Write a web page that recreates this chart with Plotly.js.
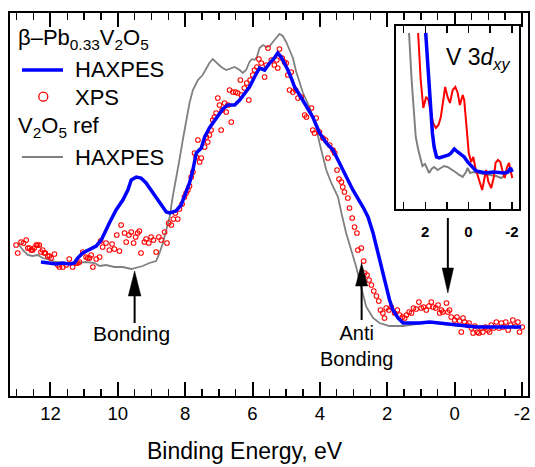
<!DOCTYPE html>
<html>
<head>
<meta charset="utf-8">
<script src="https://cdn.plot.ly/plotly-3.0.1.min.js"></script>
<style>html,body{margin:0;padding:0;background:#fff;}#chart{width:535px;height:467px;}</style>
</head>
<body>
<div id="chart"></div>
<script>
// ---- Main panel: beta-Pb0.33V2O5 HAXPES (blue line) ----
const haxpesE = [12.28,12.03,11.83,11.63,11.44,11.29,11.19,11.04,10.84,10.64,10.49,10.40,10.25,10.05,9.85,9.70,9.60,9.45,9.31,9.16,8.96,8.76,8.56,8.46,8.27,8.12,7.97,7.87,7.77,7.67,7.52,7.42,7.28,7.08,6.88,6.73,6.53,6.38,6.24,6.09,5.94,5.79,5.64,5.49,5.35,5.25,5.15,5.05,4.95,4.85,4.75,4.60,4.40,4.21,4.01,3.81,3.61,3.41,3.22,3.02,2.72,2.57,2.42,2.28,2.13,1.98,1.93,1.83,1.68,1.53,1.33,1.04,0.74,0.44,0.15,-0.25,-0.65,-1.24,-1.64,-1.98];
const haxpesI = [134,133,132,133,132,133,138,143,147,150,156,163,173,186,196,206,216,219,218,213,203,194,184,183,185,191,203,213,226,243,248,259,268,278,287,291,291,296,303,309,319,328,326,333,338,343,339,333,326,318,309,301,289,279,263,253,246,233,219,206,189,179,163,143,123,103,96,86,78,73,73,73,74,73,72,70,69,69,69,69];

// ---- Main panel: beta-Pb0.33V2O5 XPS (red open circles) ----
const xpsE = [13.02,12.97,12.87,12.80,12.72,12.67,12.62,12.57,12.53,12.48,12.42,12.38,12.33,12.28,12.23,12.18,12.15,12.08,12.03,11.98,11.88,11.78,11.73,11.63,11.53,11.44,11.34,11.24,11.19,11.14,11.04,10.94,10.89,10.84,10.79,10.74,10.64,10.54,10.51,10.45,10.35,10.25,10.17,10.10,10.03,9.95,9.90,9.80,9.75,9.67,9.60,9.53,9.47,9.41,9.36,9.31,9.21,9.16,9.08,9.01,8.94,8.86,8.78,8.71,8.61,8.54,8.49,8.41,8.35,8.29,8.22,8.17,8.09,8.02,7.97,7.92,7.87,7.82,7.77,7.72,7.67,7.62,7.57,7.52,7.42,7.37,7.33,7.28,7.23,7.18,7.13,7.08,7.03,6.98,6.93,6.90,6.83,6.78,6.73,6.68,6.63,6.58,6.50,6.44,6.36,6.33,6.24,6.17,6.11,6.07,5.99,5.94,5.87,5.81,5.74,5.64,5.59,5.54,5.44,5.35,5.28,5.25,5.20,5.12,5.05,5.00,4.95,4.90,4.85,4.80,4.72,4.65,4.55,4.45,4.40,4.25,4.21,4.16,4.11,4.01,3.91,3.83,3.76,3.71,3.61,3.56,3.49,3.43,3.36,3.32,3.27,3.17,3.12,3.04,2.97,2.90,2.87,2.77,2.70,2.67,2.60,2.54,2.47,2.40,2.32,2.25,2.20,2.13,2.08,2.03,1.95,1.88,1.78,1.70,1.63,1.55,1.48,1.43,1.35,1.28,1.22,1.14,1.06,0.99,0.92,0.84,0.76,0.69,0.64,0.56,0.49,0.44,0.39,0.35,0.24,0.20,0.15,0.10,0.00,-0.07,-0.15,-0.20,-0.25,-0.30,-0.37,-0.43,-0.50,-0.55,-0.60,-0.67,-0.72,-0.80,-0.84,-0.92,-0.99,-1.04,-1.09,-1.16,-1.24,-1.32,-1.39,-1.44,-1.52,-1.59,-1.66,-1.73,-1.81,-1.88,-1.93,-2.01];
const xpsI = [151,143,154,153,156,148,148,146,146,148,151,151,151,144,146,143,143,140,140,138,142,131,129,129,131,137,129,133,133,134,144,139,138,138,141,129,137,139,155,149,153,146,152,147,161,145,171,163,154,161,164,153,159,163,165,143,154,157,153,159,156,144,159,156,164,153,173,171,177,183,177,187,192,199,203,206,210,219,224,243,239,256,234,238,249,259,254,261,266,276,279,283,298,291,266,286,293,284,291,306,274,304,304,303,316,301,308,313,296,316,321,326,329,337,333,319,331,348,336,331,336,328,347,338,334,333,321,306,324,304,306,298,299,281,279,288,266,263,278,264,258,256,238,251,246,243,226,217,214,209,204,198,188,178,169,163,146,148,135,123,121,116,111,105,100,95,86,83,78,88,86,89,83,86,81,79,78,81,84,83,88,87,94,88,89,86,90,94,89,88,91,83,86,84,93,84,86,79,76,79,75,64,78,74,71,73,68,63,70,64,63,68,64,69,66,64,71,68,74,68,73,69,74,66,71,76,70,74,64,69];

// ---- Main panel: V2O5 reference HAXPES (grey line) ----
const refE = [12.97,12.82,12.67,12.53,12.38,12.23,12.03,11.83,11.53,11.24,10.94,10.69,10.54,10.35,10.10,9.85,9.60,9.45,9.26,9.06,8.86,8.76,8.66,8.56,8.46,8.37,8.27,8.17,8.07,7.97,7.87,7.77,7.62,7.48,7.37,7.28,7.18,7.08,6.93,6.78,6.63,6.53,6.38,6.29,6.19,6.09,6.01,5.94,5.87,5.79,5.69,5.59,5.49,5.40,5.29,5.20,5.10,5.00,4.90,4.80,4.70,4.50,4.31,4.11,4.01,3.91,3.81,3.66,3.46,3.36,3.22,3.07,2.92,2.77,2.62,2.42,2.23,1.93,1.53,1.14,0.74,0.35,-0.15,-1.34,-1.93];
const refI = [153,146,141,140,141,138,136,134,133,133,134,133,130,131,129,129,127,128,130,133,135,143,153,166,179,199,216,236,256,276,293,306,316,321,328,333,337,334,329,326,328,329,326,323,326,334,337,336,339,348,351,349,350,354,359,362,360,354,346,338,324,303,289,269,253,238,226,213,199,183,163,146,129,108,89,78,73,70,70,72,74,72,70,69,69];

// ---- Inset: V 3d_xy region ----
const insetRefE = [2.75,2.70,2.63,2.52,2.44,2.32,2.21,2.13,2.01,1.90,1.82,1.71,1.59,1.43,1.28,1.13,0.97,0.81,0.61,0.43,0.27,0.12,0.04,-0.07,-0.22,-0.43,-0.66,-0.97,-1.28,-1.51,-1.67,-1.82,-1.98];
const insetRefI = [176,149,129,96,72,59,49,43,45,40,36,40,42,39,41,43,42,40,37,34,32,37,41,36,37,36,35,34,33,31,34,36,39];
const insetHaxE = [1.98,1.85,1.74,1.67,1.59,1.48,1.36,1.20,1.05,0.92,0.81,0.66,0.50,0.35,0.20,0.04,-0.16,-0.35,-0.58,-0.81,-1.13,-1.43,-1.67,-1.82,-1.94,-2.02];
const insetHaxI = [176,129,96,76,62,52,51,52,53,54,56,60,57,54,52,47,42,38,37,36,37,36,36,37,41,37];
const insetXpsE = [2.33,2.21,2.09,1.96,1.85,1.74,1.64,1.51,1.39,1.28,1.17,1.08,0.97,0.86,0.73,0.61,0.50,0.40,0.27,0.20,0.08,-0.01,-0.12,-0.22,-0.32,-0.43,-0.53,-0.63,-0.73,-0.81,-0.92,-1.05,-1.17,-1.25,-1.36,-1.47,-1.56,-1.67,-1.78,-1.87,-1.94,-2.02];
const insetXpsI = [176,129,101,112,109,96,86,81,84,92,109,122,112,106,119,122,116,104,114,109,79,56,47,52,41,32,26,19,29,39,27,21,32,46,49,47,39,31,42,46,39,31];

// ---- Tick labels ----
const mainTickVals = [12,10,8,6,4,2,0,-2];
const mainTickText = ['12','10','8','6','4','2','0','-2'];
const insetTickVals = [2,0,-2];
const insetTickText = ['2','0','-2'];

const FONT = 'Liberation Sans, Arial, Helvetica, sans-serif';
const BLUE = '#0000ff', RED = '#ff0000', GREY = '#808080';

const traces = [
  {x: refE, y: refI, type:'scatter', mode:'lines', line:{color:GREY, width:1.8}, xaxis:'x', yaxis:'y'},
  {x: xpsE, y: xpsI, type:'scatter', mode:'markers', marker:{symbol:'circle-open', size:4.6, color:RED, line:{color:RED, width:1.1}}, xaxis:'x', yaxis:'y'},
  {x: haxpesE, y: haxpesI, type:'scatter', mode:'lines', line:{color:BLUE, width:3.5}, xaxis:'x', yaxis:'y'},
  {x: insetRefE, y: insetRefI, type:'scatter', mode:'lines', line:{color:GREY, width:2}, xaxis:'x2', yaxis:'y2'},
  {x: insetXpsE, y: insetXpsI, type:'scatter', mode:'lines', line:{color:RED, width:2}, xaxis:'x2', yaxis:'y2'},
  {x: insetHaxE, y: insetHaxI, type:'scatter', mode:'lines', line:{color:BLUE, width:3.5}, xaxis:'x2', yaxis:'y2'}
];

function xp(px){ return (px-10)/518; }
function yp(py){ return (396-py)/383; }

const shapes = [
  // legend keys
  {type:'line', xref:'paper', yref:'paper', x0:xp(22), x1:xp(63), y0:yp(70), y1:yp(70), line:{color:BLUE, width:3.5}},
  {type:'circle', xref:'paper', yref:'paper', xsizemode:'pixel', ysizemode:'pixel', xanchor:xp(43.3), yanchor:yp(96.7), x0:-4.5, x1:4.5, y0:-4.5, y1:4.5, line:{color:RED, width:1.3}},
  {type:'line', xref:'paper', yref:'paper', x0:xp(22), x1:xp(63), y0:yp(157), y1:yp(157), line:{color:GREY, width:1.8}},
  // Bonding arrow
  {type:'line', xref:'x', yref:'y', x0:9.5, x1:9.5, y0:73, y1:105, line:{color:'black', width:2}},
  {type:'path', xref:'x', yref:'y', xsizemode:'pixel', ysizemode:'pixel', xanchor:9.5, yanchor:125, path:'M0,0L-6.3,-25L6.3,-25Z', fillcolor:'black', line:{color:'black', width:0.5}},
  // Anti-bonding arrow
  {type:'line', xref:'x', yref:'y', x0:2.76, x1:2.76, y0:76, y1:115, line:{color:'black', width:2}},
  {type:'path', xref:'x', yref:'y', xsizemode:'pixel', ysizemode:'pixel', xanchor:2.76, yanchor:133, path:'M0,0L-6,-23L6,-23Z', fillcolor:'black', line:{color:'black', width:0.5}},
  // Down arrow
  {type:'line', xref:'x', yref:'y', x0:0.2, x1:0.2, y0:178, y1:122, line:{color:'black', width:2}},
  {type:'path', xref:'x', yref:'y', xsizemode:'pixel', ysizemode:'pixel', xanchor:0.2, yanchor:103, path:'M0,0L-5.7,25L5.7,25Z', fillcolor:'black', line:{color:'black', width:0.5}}
];

const ann = (o) => Object.assign({showarrow:false, font:{family:FONT, size:22, color:'black'}}, o);
const annotations = [
  ann({xref:'paper', yref:'paper', x:xp(16), y:yp(39), xanchor:'left', yanchor:'middle', text:'β–Pb<sub>0.33</sub>V<sub>2</sub>O<sub>5</sub>'}),
  ann({xref:'paper', yref:'paper', x:xp(73), y:yp(70), xanchor:'left', yanchor:'middle', text:'HAXPES'}),
  ann({xref:'paper', yref:'paper', x:xp(73), y:yp(97), xanchor:'left', yanchor:'middle', text:'XPS'}),
  ann({xref:'paper', yref:'paper', x:xp(16), y:yp(127), xanchor:'left', yanchor:'middle', text:'V<sub>2</sub>O<sub>5</sub> ref'}),
  ann({xref:'paper', yref:'paper', x:xp(73), y:yp(157), xanchor:'left', yanchor:'middle', text:'HAXPES'}),
  ann({xref:'x', yref:'y', x:9.59, y:63, xanchor:'center', yanchor:'middle', text:'Bonding', font:{family:FONT, size:21, color:'black'}}),
  ann({xref:'x', yref:'y', x:2.91, y:50, xanchor:'center', yanchor:'middle', text:'Anti<br>Bonding', font:{family:FONT, size:20, color:'black'}}),
  ann({xref:'x2', yref:'y2', x:-0.43, y:150, xanchor:'center', yanchor:'middle', text:'V 3<i>d</i><sub><i>xy</i></sub>', font:{family:FONT, size:23, color:'black'}}),
  ann({xref:'paper', yref:'paper', x:xp(245), y:yp(451), xanchor:'center', yanchor:'middle', text:'Binding Energy, eV', font:{family:FONT, size:23, color:'black'}})
];

const layout = {
  width:535, height:467,
  margin:{l:10, r:7, t:13, b:71, pad:0},
  paper_bgcolor:'#ffffff', plot_bgcolor:'#ffffff',
  showlegend:false,
  font:{family:FONT, color:'black'},
  xaxis:{
    range:[13.2,-2.18], tickmode:'array', tickvals:mainTickVals, ticktext:mainTickText,
    ticks:'inside', ticklen:14, tickwidth:2, tickcolor:'black',
    showline:true, linewidth:2, linecolor:'black', mirror:'ticks',
    showgrid:false, zeroline:false, automargin:false,
    tickfont:{family:FONT, size:18.5, color:'black'},
    minor:{tick0:0, dtick:0.5, ticks:'inside', ticklen:7, tickwidth:1.5, tickcolor:'black', showgrid:false}
  },
  yaxis:{
    range:[0,383], showticklabels:false, ticks:'', showline:true, linewidth:2, linecolor:'black',
    mirror:true, showgrid:false, zeroline:false, automargin:false
  },
  xaxis2:{
    domain:[0.7461,0.9817], anchor:'y2', range:[3.33,-2.31],
    tickmode:'array', tickvals:insetTickVals, ticktext:insetTickText,
    ticks:'inside', ticklen:7, tickwidth:1.5, tickcolor:'black',
    showline:true, linewidth:2, linecolor:'black', mirror:'ticks',
    showgrid:false, zeroline:false, automargin:false,
    tickfont:{family:FONT, size:15, color:'black', weight:'bold'}, ticklabelstandoff:8,
    minor:{tick0:0, dtick:1, ticks:'inside', ticklen:7, tickwidth:1.5, tickcolor:'black', showgrid:false}
  },
  yaxis2:{
    domain:[0.4883,0.9661], anchor:'x2', range:[0,183], showticklabels:false, ticks:'',
    showline:true, linewidth:2, linecolor:'black', mirror:true,
    showgrid:false, zeroline:false, automargin:false
  },
  shapes: shapes,
  annotations: annotations
};

Plotly.newPlot('chart', traces, layout, {staticPlot:true, displayModeBar:false});
</script>
</body>
</html>
